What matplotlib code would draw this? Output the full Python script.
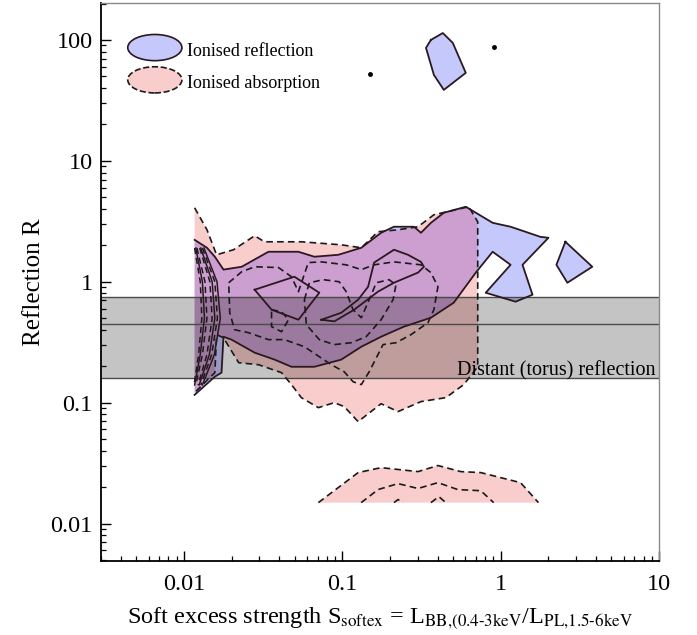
import matplotlib
matplotlib.use("Agg")
import matplotlib.pyplot as plt
import matplotlib.patches as mpatches
import matplotlib.transforms as mtransforms
from matplotlib.legend_handler import HandlerPatch
from matplotlib.ticker import FixedLocator, FixedFormatter

plt.rcParams['font.family'] = ['Liberation Serif', 'DejaVu Serif']
plt.rcParams['mathtext.fontset'] = 'stix'

# --- outer contour, ionised absorption (main body)
abs_s = [0.0117, 0.014, 0.0161, 0.0206, 0.028, 0.0323, 0.0552, 0.0986, 0.132, 0.168,
         0.225, 0.301, 0.379, 0.521, 0.629, 0.717, 0.717, 0.717, 0.585, 0.451,
         0.314, 0.225, 0.176, 0.126, 0.103, 0.0891, 0.0707, 0.0552, 0.0478, 0.0414,
         0.0296, 0.0222, 0.0178, 0.0161, 0.0157, 0.0117]
abs_r = [4.09, 2.69, 1.67, 1.84, 2.40, 2.14, 2.14, 2.02, 1.91, 2.59,
         2.69, 2.85, 3.58, 3.94, 4.17, 3.13, 0.71, 0.198, 0.141, 0.110,
         0.102, 0.0843, 0.098, 0.0697, 0.0927, 0.100, 0.0909, 0.110, 0.141, 0.177,
         0.206, 0.214, 0.344, 0.365, 0.177, 0.121]

# --- outer contour, ionised reflection (main body)
refl_s = [0.0117, 0.014, 0.0157, 0.0178, 0.0232, 0.0342, 0.0529, 0.0667, 0.0944, 0.132,
          0.176, 0.212, 0.284, 0.314, 0.363, 0.438, 0.603, 0.891, 1.156, 1.785,
          2.004, 1.375, 1.590, 1.243, 0.805, 1.156, 0.891, 0.697, 0.506, 0.363,
          0.245, 0.176, 0.132, 0.0986, 0.0667, 0.0478, 0.0374, 0.028, 0.020, 0.0178,
          0.0173, 0.0157, 0.0117]
refl_r = [2.22, 1.91, 1.61, 1.26, 1.33, 1.77, 1.77, 1.61, 1.67, 1.91,
          2.54, 2.85, 2.85, 2.54, 3.07, 3.72, 4.17, 3.07, 2.85, 2.35,
          2.31, 1.38, 0.781, 0.684, 0.811, 1.38, 1.77, 1.19, 0.671, 0.504,
          0.425, 0.351, 0.290, 0.227, 0.198, 0.198, 0.227, 0.259, 0.332, 0.351,
          0.177, 0.164, 0.116]

# reflection islands
isl1_s = [2.564, 3.791, 2.639, 2.25, 2.564]
isl1_r = [2.14, 1.33, 0.981, 1.38, 2.14]
isl2_s = [0.363, 0.4316, 0.499, 0.6025, 0.438, 0.379, 0.338, 0.363]
isl2_r = [100, 114, 94.5, 53.4, 38.6, 51.4, 85.9, 100]
dot_s = [0.904, 0.150]
dot_r = [87.5, 52.4]

# inner absorption contours
p2_s = [0.0192, 0.0232, 0.028, 0.0396, 0.0478, 0.0529, 0.0611, 0.0738, 0.106, 0.132,
        0.159, 0.212, 0.314, 0.363, 0.402, 0.379, 0.3475, 0.2716, 0.2186, 0.181,
        0.148, 0.132, 0.117, 0.103, 0.0853, 0.0687, 0.0577, 0.0432, 0.0342, 0.0256,
        0.0209, 0.0195, 0.0192]
p2_r = [0.981, 1.21, 1.33, 1.31, 1.10, 0.827, 1.44, 1.46, 1.38, 1.26,
        1.38, 1.46, 1.38, 1.19, 0.909, 0.587, 0.458, 0.365, 0.313, 0.302,
        0.180, 0.141, 0.149, 0.180, 0.206, 0.249, 0.290, 0.332, 0.332, 0.379,
        0.401, 0.554, 0.981]
p3a_s = [0.0358, 0.0414, 0.0458, 0.0414, 0.0358, 0.0358]
p3a_r = [0.587, 0.565, 0.485, 0.386, 0.425, 0.587]
p3b_s = [0.0577, 0.062, 0.076, 0.0957, 0.106, 0.117, 0.132, 0.148, 0.164, 0.1975,
         0.2186, 0.2094, 0.176, 0.1416, 0.114, 0.0891, 0.0717, 0.0594, 0.0577]
p3b_r = [0.710, 0.981, 1.04, 1.0, 0.827, 0.587, 0.504, 0.710, 0.981, 1.04,
         0.944, 0.710, 0.485, 0.351, 0.313, 0.302, 0.332, 0.441, 0.710]

# inner reflection contours
b2a_s = [0.028, 0.0499, 0.0717, 0.0529, 0.0358, 0.028]
b2a_r = [0.859, 1.10, 0.811, 0.485, 0.587, 0.859]
b2b_s = [0.0738, 0.0986, 0.126, 0.1457, 0.159, 0.2123, 0.2601, 0.314, 0.328, 0.301,
         0.212, 0.168, 0.119, 0.0891, 0.0738]
b2b_r = [0.485, 0.554, 0.710, 0.909, 1.44, 1.84, 1.67, 1.46, 1.33, 1.19,
         0.981, 0.827, 0.587, 0.47, 0.485]

# squeezed contours at the low-S edge
spike_r = [1.9, 1.0, 0.5, 0.25, 0.14]
spike_dash = [[0.0117, 0.0127, 0.0130, 0.0124, 0.0116],
              [0.0121, 0.0136, 0.0140, 0.0131, 0.0119],
              [0.0126, 0.0146, 0.0151, 0.0140, 0.0123],
              [0.0131, 0.0157, 0.0163, 0.0150, 0.0128]]
spike_solid = [[0.0119, 0.0131, 0.0135, 0.0127, 0.0117],
               [0.0128, 0.0151, 0.0157, 0.0145, 0.0125],
               [0.0134, 0.0162, 0.0170, 0.0156, 0.0131]]

# low-R absorption blob (cut at grid edge)
low_s = [0.0707, 0.126, 0.176, 0.301, 0.402, 0.560, 0.749, 1.336, 1.734]
low_r = [0.0149, 0.0264, 0.029, 0.0269, 0.0302, 0.0269, 0.0264, 0.0218, 0.0149]
low2_s = [0.1317, 0.1684, 0.225, 0.301, 0.402, 0.5365, 0.749, 0.904]
low2_r = [0.0149, 0.0191, 0.0214, 0.0195, 0.0218, 0.0191, 0.0187, 0.0149]
low3a_s = [0.2123, 0.225, 0.2419]
low3a_r = [0.0149, 0.0158, 0.0149]
low3b_s = [0.363, 0.4075, 0.451]
low3b_r = [0.0149, 0.0167, 0.0149]

# distant reflection band
torus_lo, torus_mid, torus_hi = 0.16, 0.45, 0.75

blue = '#c5c8fa'
pink = '#facdcd'
purple = '#cc9fd0'
dash_col = '#1a1a1a'
solid_col = '#2b1820'
dash = (0, (4, 2.5))


class HandlerEllipse(HandlerPatch):
    def create_artists(self, legend, orig_handle, xdescent, ydescent,
                       width, height, fontsize, trans):
        center = 0.5 * width - 0.5 * xdescent, 0.5 * height - 0.5 * ydescent
        p = mpatches.Ellipse(xy=center, width=width + xdescent,
                             height=height + ydescent)
        self.update_prop(p, orig_handle, legend)
        p.set_transform(trans)
        return [p]


fig = plt.figure(figsize=(6.97, 6.35), dpi=100)
ax = fig.add_axes([0.1449, 0.1165, 0.8006, 0.8788])
ax.set_xscale('log')
ax.set_yscale('log')
ax.set_xlim(0.0030, 10)
ax.set_ylim(0.0049, 202)

# fills
pink_patch = ax.fill(abs_s, abs_r, color=pink, lw=0, zorder=1)[0]
ax.fill(low_s, low_r, color=pink, lw=0, zorder=1)
ax.fill(refl_s, refl_r, color=blue, lw=0, zorder=1.1)
ax.fill(isl1_s, isl1_r, color=blue, lw=0, zorder=1.1)
ax.fill(isl2_s, isl2_r, color=blue, lw=0, zorder=1.1)
overlap = ax.fill(refl_s, refl_r, color=purple, lw=0, zorder=1.2)[0]
overlap.set_clip_path(pink_patch)

# band
ax.axhspan(torus_lo, torus_hi, color='black', alpha=0.23, lw=0, zorder=2)
for yv in (torus_lo, torus_mid, torus_hi):
    ax.axhline(yv, color='#4a4a4a', lw=1.0, zorder=2.5)

# contour lines
ax.plot(abs_s, abs_r, color=dash_col, ls=dash, lw=1.2, zorder=3)
ax.plot(low_s, low_r, color=dash_col, ls=dash, lw=1.2, zorder=3)
for xs, ys in [(p2_s, p2_r), (p3a_s, p3a_r), (p3b_s, p3b_r),
               (low2_s, low2_r), (low3a_s, low3a_r), (low3b_s, low3b_r)]:
    ax.plot(xs, ys, color=dash_col, ls=dash, lw=1.2, zorder=3)
for xs in spike_dash:
    ax.plot(xs, spike_r, color=dash_col, ls=dash, lw=1.1, zorder=3)

ax.plot(refl_s, refl_r, color=solid_col, lw=1.3, zorder=3.1)
for xs, ys in [(isl1_s, isl1_r), (isl2_s, isl2_r), (b2a_s, b2a_r), (b2b_s, b2b_r)]:
    ax.plot(xs, ys, color=solid_col, lw=1.3, zorder=3.1)
for xs in spike_solid:
    ax.plot(xs, spike_r, color=solid_col, lw=1.1, zorder=3.1)
ax.plot(dot_s, dot_r, 'o', color='black', ms=2.5, zorder=3.2)

# band label
trans = mtransforms.blended_transform_factory(ax.transAxes, ax.transData)
ax.text(0.993, torus_lo * 1.04, 'Distant (torus) reflection', transform=trans,
        ha='right', va='baseline', fontsize=14.5, zorder=4)

# legend
h_refl = mpatches.Patch(facecolor=blue, edgecolor=solid_col, lw=1.2, ls='-')
h_abs = mpatches.Patch(facecolor=pink, edgecolor=dash_col, lw=1.2, ls='--')
ax.legend([h_refl, h_abs], ['Ionised reflection', 'Ionised absorption'],
          handler_map={mpatches.Patch: HandlerEllipse()},
          loc='upper left', bbox_to_anchor=(0.035, 0.948), frameon=False,
          fontsize=13, handlelength=3.0, handleheight=1.45,
          labelspacing=0.6, handletextpad=0.3, borderaxespad=0)

# axes styling
ax.xaxis.set_major_locator(FixedLocator([0.01, 0.1, 1, 10]))
ax.xaxis.set_major_formatter(FixedFormatter(['0.01', '0.1', '1', '10']))
ax.yaxis.set_major_locator(FixedLocator([0.01, 0.1, 1, 10, 100]))
ax.yaxis.set_major_formatter(FixedFormatter(['0.01', '0.1', '1', '10', '100']))
ax.tick_params(which='both', direction='in', top=False, right=False, labelsize=17.5)
ax.tick_params(which='major', length=7, width=1)
ax.tick_params(which='minor', length=3.5, width=0.9)
ax.tick_params(axis='x', pad=9)
ax.tick_params(axis='y', pad=6)
for side in ('left', 'bottom'):
    ax.spines[side].set_linewidth(1.3)
for side in ('top', 'right'):
    ax.spines[side].set_color('#8a8a8a')
    ax.spines[side].set_linewidth(1.0)

ax.set_xlabel('Soft excess strength S$_{\\mathrm{softex}}$ = '
              'L$_{\\mathrm{BB{,}(0.4\u20103keV}}$/L$_{\\mathrm{PL{,}1.5\u20106keV}}$',
              fontsize=17.5)
ax.set_ylabel('Reflection R', fontsize=18)
ax.xaxis.set_label_coords(0.5, -0.078)
ax.yaxis.set_label_coords(-0.10, 0.5)

fig.savefig('out.png', dpi=100)
